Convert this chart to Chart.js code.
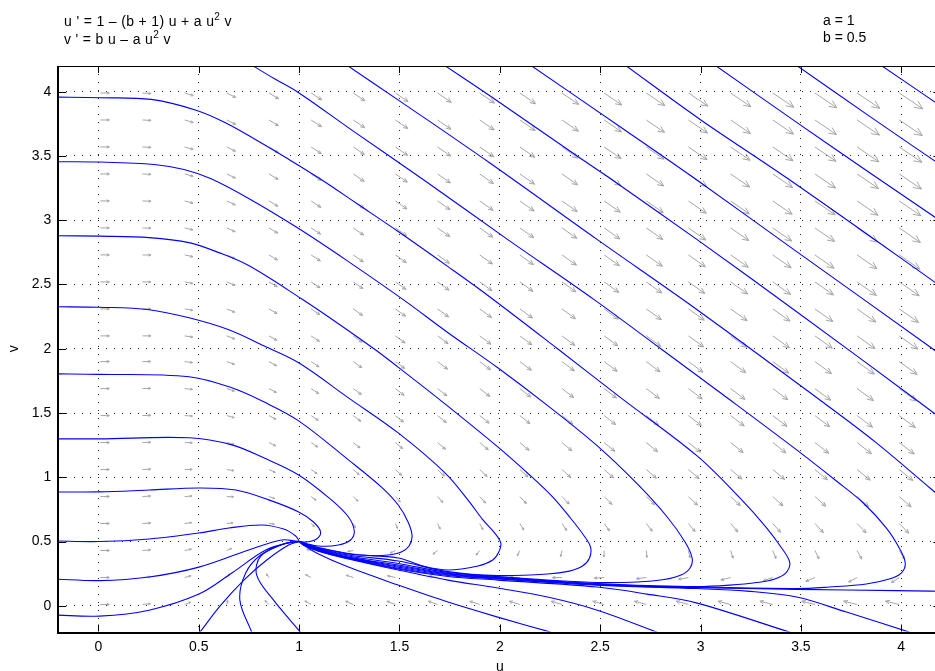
<!DOCTYPE html>
<html>
<head>
<meta charset="utf-8">
<title>Phase plane</title>
<script src="https://cdn.jsdelivr.net/npm/chart.js@4.4.1/dist/chart.umd.min.js"></script>
<style>
html, body { margin: 0; padding: 0; background: #fff; overflow: hidden; }
#wrap { position: relative; width: 960px; height: 671px; }
</style>
</head>
<body>
<div id="wrap"><canvas id="phase" width="960" height="671"></canvas></div>
<script>
// parameters printed in the header
const paramA = 1;
const paramB = 0.5;

const xTicks = [0, 0.5, 1, 1.5, 2, 2.5, 3, 3.5, 4];
const yTicks = [0, 0.5, 1, 1.5, 2, 2.5, 3, 3.5, 4];

// where the gray direction arrows sit
const arrowU = [0.01, 0.22, 0.43, 0.64, 0.85, 1.06, 1.27, 1.48, 1.69, 1.90, 2.10, 2.31, 2.52, 2.73, 2.94, 3.15, 3.36, 3.57, 3.78, 3.99];
const arrowV = [0.01, 0.22, 0.43, 0.64, 0.85, 1.06, 1.27, 1.48, 1.69, 1.90, 2.10, 2.31, 2.52, 2.73, 2.94, 3.15, 3.36, 3.57, 3.78, 3.99];

// trajectories, [u, v]
// entering from the left edge
const trajL1 = [[-0.218,3.958],[0.005,3.953],[0.263,3.940],[0.491,3.854],[0.640,3.753],[0.774,3.636],[0.938,3.484],[1.097,3.330],[1.295,3.122],[1.494,2.912],[1.742,2.639],[1.949,2.405],[2.288,2.000],[2.610,1.610],[2.983,1.166],[3.196,0.839],[3.330,0.605],[3.404,0.450],[3.444,0.340],[3.429,0.262],[3.370,0.208],[3.280,0.181],[3.146,0.161],[2.983,0.149],[2.734,0.157],[2.486,0.173],[2.238,0.194],[1.990,0.222],[1.742,0.252],[1.494,0.317],[1.246,0.379],[1.097,0.438],[1.022,0.481],[1.002,0.500]];
const trajL2 = [[-0.218,3.455],[0.005,3.453],[0.278,3.434],[0.427,3.395],[0.559,3.324],[0.749,3.169],[0.998,2.935],[1.246,2.678],[1.519,2.382],[1.742,2.125],[1.990,1.852],[2.253,1.540],[2.486,1.244],[2.685,0.948],[2.834,0.691],[2.923,0.496],[2.958,0.372],[2.948,0.294],[2.903,0.239],[2.819,0.204],[2.685,0.185],[2.486,0.181],[2.238,0.200],[1.990,0.227],[1.742,0.259],[1.494,0.329],[1.246,0.387],[1.097,0.442],[1.022,0.481],[1.002,0.500]];
const trajL3 = [[-0.218,2.880],[0.005,2.876],[0.253,2.865],[0.452,2.826],[0.600,2.748],[0.749,2.647],[1.012,2.389],[1.196,2.195],[1.380,1.992],[1.543,1.797],[1.727,1.571],[1.990,1.236],[2.154,1.010],[2.263,0.847],[2.352,0.683],[2.417,0.551],[2.452,0.457],[2.447,0.372],[2.412,0.309],[2.347,0.270],[2.238,0.247],[1.990,0.235],[1.742,0.266],[1.494,0.348],[1.246,0.395],[1.097,0.446],[1.022,0.485],[1.002,0.500]];
const trajL4 = [[-0.218,2.327],[0.005,2.323],[0.253,2.304],[0.452,2.241],[0.650,2.148],[0.824,2.023],[0.998,1.891],[1.246,1.618],[1.494,1.345],[1.727,1.034],[1.841,0.824],[1.916,0.668],[1.975,0.566],[2.005,0.488],[1.995,0.418],[1.965,0.356],[1.891,0.309],[1.742,0.278],[1.618,0.309],[1.494,0.372],[1.246,0.403],[1.097,0.450],[1.022,0.485],[1.002,0.500]];
const trajL5 = [[-0.218,1.805],[0.005,1.801],[0.452,1.782],[0.665,1.696],[0.824,1.587],[0.998,1.439],[1.246,1.135],[1.409,0.925],[1.494,0.784],[1.543,0.652],[1.563,0.543],[1.548,0.465],[1.509,0.418],[1.444,0.395],[1.345,0.391],[1.246,0.407],[1.097,0.453],[1.022,0.488],[1.002,0.500]];
const trajL6 = [[-0.218,1.299],[0.005,1.299],[0.452,1.307],[0.665,1.252],[0.824,1.151],[0.998,1.018],[1.161,0.824],[1.246,0.691],[1.275,0.582],[1.256,0.512],[1.196,0.473],[1.097,0.465],[1.022,0.488],[1.002,0.500]];
const trajL7 = [[-0.218,0.886],[0.005,0.886],[0.253,0.901],[0.501,0.917],[0.685,0.901],[0.849,0.824],[0.998,0.730],[1.072,0.652],[1.107,0.574],[1.087,0.520],[1.037,0.496],[1.002,0.500]];
const trajL8 = [[-0.218,0.504],[0.005,0.500],[0.253,0.520],[0.501,0.566],[0.650,0.605],[0.814,0.629],[0.923,0.597],[0.983,0.543],[1.002,0.500]];
const trajL9 = [[-0.218,0.208],[0.005,0.196],[0.253,0.224],[0.501,0.301],[0.749,0.434],[0.913,0.512],[0.983,0.504],[1.002,0.500]];
const trajL10 = [[-0.218,-0.072],[0.005,-0.080],[0.253,-0.034],[0.501,0.091],[0.665,0.255],[0.834,0.434],[0.963,0.496],[1.002,0.500]];

// entering from the bottom edge
const trajB1 = [[0.506,-0.205],[0.610,0.005],[0.725,0.200],[0.839,0.356],[0.948,0.473],[1.002,0.500]];
const trajB2 = [[0.764,-0.205],[0.705,0.044],[0.734,0.255],[0.809,0.395],[0.923,0.481],[1.002,0.500]];
const trajB3 = [[1.007,-0.205],[0.873,0.044],[0.789,0.239],[0.809,0.387],[0.923,0.481],[1.002,0.500]];
const trajBB1 = [[2.253,-0.205],[1.990,-0.088],[1.742,0.029],[1.494,0.161],[1.246,0.301],[1.097,0.403],[1.022,0.473],[1.002,0.500]];
const trajBB2 = [[2.784,-0.205],[2.486,-0.034],[2.238,0.068],[1.990,0.138],[1.742,0.200],[1.494,0.278],[1.246,0.364],[1.097,0.424],[1.022,0.473],[1.002,0.500]];
const trajBB3 = [[3.444,-0.205],[2.983,0.021],[2.734,0.091],[2.486,0.146],[1.990,0.200],[1.742,0.228],[1.494,0.286],[1.246,0.368],[1.097,0.427],[1.022,0.475],[1.002,0.500]];
const trajBB4 = [[4.040,-0.205],[3.727,-0.049],[3.479,0.068],[3.231,0.114],[2.983,0.134],[2.486,0.161],[1.990,0.208],[1.742,0.236],[1.494,0.292],[1.246,0.372],[1.097,0.430],[1.022,0.476],[1.002,0.500]];

// entering from the right edge, along the slow branch
const trajR = [[4.223,0.112],[4.149,0.114],[3.975,0.118],[3.479,0.128],[2.983,0.141],[2.734,0.149],[2.486,0.165],[2.238,0.186],[1.990,0.212],[1.742,0.242],[1.494,0.301],[1.246,0.372],[1.097,0.434],[1.022,0.477],[1.002,0.500]];

// entering from the top edge
const trajT1 = [[0.758,4.213],[0.873,4.105],[0.998,3.992],[1.270,3.693],[1.618,3.317],[2.040,2.849],[2.470,2.382],[2.809,1.992],[3.146,1.603],[3.479,1.213],[3.677,0.971],[3.811,0.800],[3.926,0.605],[3.990,0.450],[4.020,0.333],[4.000,0.255],[3.940,0.208],[3.826,0.169],[3.643,0.146],[3.479,0.134],[2.983,0.146],[2.734,0.153],[2.486,0.169],[2.238,0.190],[1.990,0.217],[1.742,0.247],[1.494,0.309],[1.246,0.376],[1.097,0.436],[1.022,0.481],[1.002,0.500]];
const trajT2 = [[1.232,4.213],[1.502,3.927],[1.949,3.447],[2.486,2.849],[2.983,2.304],[3.593,1.603],[3.876,1.268],[4.149,0.909],[4.273,0.745]];
const trajT3 = [[1.717,4.213],[1.965,3.953],[2.387,3.498],[2.536,3.340],[2.983,2.849],[3.479,2.288],[4.074,1.603],[4.273,1.369]];
const trajT4 = [[2.147,4.213],[2.619,3.706],[2.966,3.330],[3.479,2.756],[4.149,2.008],[4.273,1.868]];
const trajT5 = [[2.619,4.213],[2.998,3.784],[3.429,3.330],[4.149,2.538],[4.273,2.397]];
const trajT6 = [[3.066,4.213],[3.479,3.761],[3.841,3.371],[4.273,2.912]];
const trajT7 = [[3.471,4.213],[3.841,3.810],[4.273,3.348]];
const trajT8 = [[3.892,4.213],[4.273,3.807]];

const trajectories = [trajL1, trajL2, trajL3, trajL4, trajL5, trajL6, trajL7, trajL8, trajL9, trajL10,
  trajB1, trajB2, trajB3, trajBB1, trajBB2, trajBB3, trajBB4, trajR,
  trajT1, trajT2, trajT3, trajT4, trajT5, trajT6, trajT7, trajT8];

const family = "'Liberation Sans', Arial, Helvetica, sans-serif";
Chart.defaults.font.family = family;

function drawArrow(ctx, x0, y0, x1, y1) {
    const dx = x1 - x0, dy = y1 - y0;
    const len = Math.hypot(dx, dy);
    if (len < 0.5) return;
    const ang = Math.atan2(dy, dx);
    const hl = Math.max(2.2, len * 0.32);
    const spread = 0.42;
    ctx.beginPath();
    ctx.moveTo(x0, y0);
    ctx.lineTo(x1, y1);
    ctx.moveTo(x1 - hl * Math.cos(ang - spread), y1 - hl * Math.sin(ang - spread));
    ctx.lineTo(x1, y1);
    ctx.lineTo(x1 - hl * Math.cos(ang + spread), y1 - hl * Math.sin(ang + spread));
    ctx.stroke();
}

function drawRich(ctx, x, y, parts, size) {
    parts.forEach(p => {
        const fs = p.sup ? size * 0.72 : size;
        ctx.font = fs + 'px ' + family;
        ctx.fillText(p.t, x, p.sup ? y - size * 0.42 : y);
        x += ctx.measureText(p.t).width;
    });
}

const phasePlugin = {
    id: 'phasePlane',
    beforeDatasetsDraw(chart) {
        // direction field from the equations in the header
        const { ctx, chartArea: ca, scales: { x, y } } = chart;
        const W = ca.right - ca.left, H = ca.bottom - ca.top;
        ctx.save();
        ctx.beginPath();
        ctx.rect(ca.left, ca.top, W, H);
        ctx.clip();
        ctx.strokeStyle = '#a6a6a6';
        ctx.lineWidth = 1;
        arrowV.forEach(v => {
            arrowU.forEach(u => {
                const du = 1 - (paramB + 1) * u + paramA * u * u * v;
                const dv = paramB * u - paramA * u * u * v;
                const mag = Math.hypot(du, dv);
                if (mag < 1e-9) return;
                const s = 0.0102 * Math.pow(mag, 0.3);
                const px = x.getPixelForValue(u), py = y.getPixelForValue(v);
                drawArrow(ctx, px, py, px + du / mag * s * W, py - dv / mag * s * H);
            });
        });
        ctx.restore();
    },
    afterDatasetsDraw(chart) {
        const { ctx, chartArea: ca, scales: { x, y } } = chart;
        ctx.save();
        ctx.strokeStyle = '#000';
        // box
        ctx.lineWidth = 1;
        ctx.beginPath();
        ctx.moveTo(ca.left, Math.round(ca.top) + 0.5);
        ctx.lineTo(ca.right, Math.round(ca.top) + 0.5);
        ctx.moveTo(Math.round(ca.right) + 0.5, ca.top);
        ctx.lineTo(Math.round(ca.right) + 0.5, ca.bottom);
        ctx.stroke();
        ctx.lineWidth = 2;
        ctx.beginPath();
        ctx.moveTo(Math.round(ca.left), ca.top);
        ctx.lineTo(Math.round(ca.left), Math.round(ca.bottom) + 1);
        ctx.lineTo(ca.right, Math.round(ca.bottom) + 1);
        ctx.stroke();
        // inward ticks
        ctx.lineWidth = 1;
        ctx.beginPath();
        xTicks.forEach(t => {
            const px = Math.round(x.getPixelForValue(t)) + 0.5;
            ctx.moveTo(px, ca.bottom); ctx.lineTo(px, ca.bottom - 7);
            ctx.moveTo(px, ca.top); ctx.lineTo(px, ca.top + 7);
        });
        yTicks.forEach(t => {
            const py = Math.round(y.getPixelForValue(t)) + 0.5;
            ctx.moveTo(ca.left, py); ctx.lineTo(ca.left + 8, py);
            ctx.moveTo(ca.right, py); ctx.lineTo(ca.right - 8, py);
        });
        ctx.stroke();
        ctx.restore();
    },
    afterDraw(chart) {
        const { ctx, chartArea: ca } = chart;
        ctx.save();
        ctx.fillStyle = '#000';
        ctx.textBaseline = 'alphabetic';
        ctx.textAlign = 'left';
        ctx.letterSpacing = '0.35px';
        drawRich(ctx, 64, 25.5, [{ t: "u ' = 1 \u2013 (b + 1) u + a u" }, { t: '2', sup: true }, { t: ' v' }], 14);
        drawRich(ctx, 64, 44, [{ t: "v ' = b u \u2013 a u" }, { t: '2', sup: true }, { t: ' v' }], 14);
        ctx.letterSpacing = '0px';
        ctx.font = '14px ' + family;
        ctx.fillText('a = ' + paramA, 823, 25);
        ctx.fillText('b = ' + paramB, 823, 42);
        // axis titles
        ctx.textAlign = 'center';
        ctx.fillText('u', (ca.left + ca.right) / 2, 671);
        ctx.translate(14, (ca.top + ca.bottom) / 2);
        ctx.rotate(-Math.PI / 2);
        ctx.textBaseline = 'middle';
        ctx.fillText('v', 0, 0);
        ctx.restore();
    }
};

new Chart(document.getElementById('phase').getContext('2d'), {
    type: 'scatter',
    data: {
        datasets: trajectories.map(tr => ({
            data: tr.map(p => ({ x: p[0], y: p[1] })),
            showLine: true,
            borderColor: '#0000ff',
            borderWidth: 1.1,
            pointRadius: 0,
            tension: 0.35,
            fill: false
        }))
    },
    options: {
        responsive: false,
        devicePixelRatio: 1,
        animation: false,
        events: [],
        layout: { padding: { top: 66, right: 18.6, bottom: 0, left: 0 } },
        plugins: {
            legend: { display: false },
            tooltip: { enabled: false }
        },
        scales: {
            x: {
                type: 'linear',
                min: -0.2,
                max: 4.2,
                afterBuildTicks: s => { s.ticks = xTicks.map(v => ({ value: v })); },
                afterFit: s => { s.height = 39.5; },
                grid: { color: '#222', lineWidth: 1, drawTicks: false },
                border: { display: false, dash: [1, 7] },
                ticks: {
                    padding: 7,
                    color: '#000',
                    maxRotation: 0,
                    autoSkip: false,
                    font: { size: 14 },
                    callback: v => String(v)
                }
            },
            y: {
                type: 'linear',
                min: -0.2,
                max: 4.2,
                afterBuildTicks: s => { s.ticks = yTicks.map(v => ({ value: v })); },
                afterFit: s => { s.width = 58.2; },
                grid: { color: '#222', lineWidth: 1, drawTicks: false },
                border: { display: false, dash: [1, 7] },
                ticks: {
                    padding: 7,
                    color: '#000',
                    autoSkip: false,
                    font: { size: 14 },
                    callback: v => String(v)
                }
            }
        }
    },
    plugins: [phasePlugin]
});
</script>
</body>
</html>
